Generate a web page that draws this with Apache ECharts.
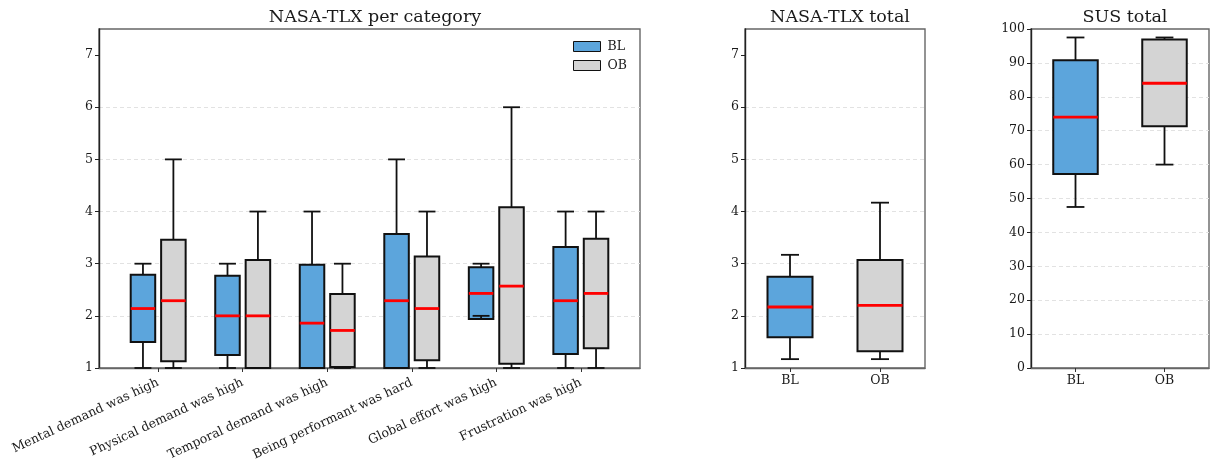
<!DOCTYPE html>
<html>
<head>
<meta charset="utf-8">
<script src="https://cdn.jsdelivr.net/npm/echarts@6/dist/echarts.min.js"></script>
<style>html,body{margin:0;padding:0;background:#fff;}#c{width:1210px;height:464px;}</style>
</head>
<body>
<div id="c"></div>
<script>
// ---- data (five-number summaries: [whisker low, Q1, median, Q3, whisker high]) ----
const categories = ['Mental demand was high', 'Physical demand was high', 'Temporal demand was high',
  'Being performant was hard', 'Global effort was high', 'Frustration was high'];
const groups = ['BL', 'OB'];
const tlxBL = [
  [1, 1.50, 2.14, 2.79, 3],
  [1, 1.25, 2.00, 2.77, 3],
  [1, 1.00, 1.86, 2.98, 4],
  [1, 1.00, 2.29, 3.57, 5],
  [2, 1.94, 2.43, 2.93, 3],
  [1, 1.27, 2.29, 3.32, 4]
];
const tlxOB = [
  [1, 1.13, 2.29, 3.46, 5],
  [1, 1.00, 2.00, 3.07, 4],
  [1, 1.02, 1.72, 2.42, 3],
  [1, 1.15, 2.14, 3.14, 4],
  [1, 1.08, 2.57, 4.08, 6],
  [1, 1.38, 2.43, 3.48, 4]
];
const tlxTotalBL = [1.17, 1.59, 2.17, 2.75, 3.17];
const tlxTotalOB = [1.17, 1.32, 2.20, 3.07, 4.17];
const susBL = [47.5, 57.2, 74.0, 90.8, 97.5];
const susOB = [60.0, 71.3, 84.0, 96.9, 97.5];
const tlxTicks = [1, 2, 3, 4, 5, 6, 7];

// ---- styles ----
const FONT = 'DejaVu Serif';
const TXT = '#1a1a1a';
const colors = { BL: '#5ca5dc', OB: '#d4d4d4' };

function boxRender(widthUnits) {
  return function (params, api) {
    const x = api.value(0);
    const lo = api.coord([x, api.value(1)]);
    const q1 = api.coord([x, api.value(2)]);
    const md = api.coord([x, api.value(3)]);
    const q3 = api.coord([x, api.value(4)]);
    const hi = api.coord([x, api.value(5)]);
    const unit = api.size([1, 0])[0];
    const hw = unit * widthUnits / 2;
    const cw = unit * 0.1;
    const cx = lo[0];
    const fill = api.visual('color');
    const blk = { stroke: '#111', lineWidth: 1.8 };
    return {
      type: 'group', children: [
        { type: 'rect', shape: { x: cx - hw, y: q3[1], width: 2 * hw, height: q1[1] - q3[1] },
          style: { fill: fill, stroke: '#111', lineWidth: 2 } },
        { type: 'line', shape: { x1: cx, y1: q3[1], x2: cx, y2: hi[1] }, style: blk },
        { type: 'line', shape: { x1: cx, y1: q1[1], x2: cx, y2: lo[1] }, style: blk },
        { type: 'line', shape: { x1: cx - cw, y1: hi[1], x2: cx + cw, y2: hi[1] }, style: blk },
        { type: 'line', shape: { x1: cx - cw, y1: lo[1], x2: cx + cw, y2: lo[1] }, style: blk },
        { type: 'line', shape: { x1: cx - hw, y1: md[1], x2: cx + hw, y2: md[1] },
          style: { stroke: '#ff0000', lineWidth: 2.8 } }
      ]
    };
  };
}

function yAxis(idx, min, max, interval, custom) {
  const o = {
    type: 'value', gridIndex: idx, min: min, max: max, interval: interval,
    axisLine: { show: true, onZero: false, lineStyle: { color: '#222', width: 1.4 } },
    axisTick: { show: true, length: 4, lineStyle: { color: '#222' } },
    axisLabel: { fontFamily: FONT, fontSize: 12.5, color: TXT, margin: 6 },
    splitLine: { show: true, showMinLine: false, showMaxLine: false,
      lineStyle: { color: '#e2e2e2', type: [4, 3], width: 1 } }
  };
  if (custom) {
    o.axisTick.customValues = custom;
    o.axisLabel.customValues = custom;
  }
  return o;
}

function catAxis(idx) {
  return {
    type: 'category', gridIndex: idx, data: groups, boundaryGap: true,
    axisLine: { show: true, onZero: false, lineStyle: { color: '#666', width: 1.4 } },
    axisTick: { show: true, alignWithLabel: true, length: 4, lineStyle: { color: '#333' } },
    axisLabel: { fontFamily: FONT, fontSize: 12.5, color: TXT, margin: 6 },
    splitLine: { show: false }
  };
}

const OFF = 0.18, BW = 0.29;
const series = [];
groups.forEach(function (g, gi) {
  const src = gi === 0 ? tlxBL : tlxOB;
  const sign = gi === 0 ? -1 : 1;
  series.push({
    type: 'custom', name: g, xAxisIndex: 0, yAxisIndex: 0,
    itemStyle: { color: colors[g], borderColor: '#111', borderWidth: 1 },
    renderItem: boxRender(BW),
    encode: { x: 0, y: [1, 2, 3, 4, 5] },
    data: src.map(function (v, i) { return [i + sign * OFF].concat(v); })
  });
});
[[tlxTotalBL, tlxTotalOB, 1], [susBL, susOB, 2]].forEach(function (p) {
  groups.forEach(function (g, gi) {
    series.push({
      type: 'custom', name: g, xAxisIndex: p[2], yAxisIndex: p[2],
      itemStyle: { color: colors[g], borderColor: '#111', borderWidth: 1 },
      renderItem: boxRender(0.5),
      encode: { x: 0, y: [1, 2, 3, 4, 5] },
      data: [[gi].concat(p[gi])]
    });
  });
});

const titleStyle = { fontFamily: FONT, fontSize: 17.5, fontWeight: 'normal', color: TXT };
const option = {
  animation: false,
  backgroundColor: '#fff',
  title: [
    { text: 'NASA-TLX per category', left: 370, top: 3, textAlign: 'center', textStyle: titleStyle },
    { text: 'NASA-TLX total', left: 835, top: 3, textAlign: 'center', textStyle: titleStyle },
    { text: 'SUS total', left: 1120, top: 3, textAlign: 'center', textStyle: titleStyle }
  ],
  legend: {
    data: groups, orient: 'vertical', left: 573, top: 40, itemGap: 6, padding: 0,
    icon: 'rect', itemWidth: 27, itemHeight: 10,
    textStyle: { fontFamily: FONT, fontSize: 12.5, color: TXT, padding: [0, 0, 0, 2] },
    itemStyle: { borderColor: '#111', borderWidth: 1 },
    selectedMode: false
  },
  grid: [
    { left: 99, top: 29, width: 541, height: 339, show: true, borderColor: '#666', borderWidth: 1.4 },
    { left: 745, top: 29, width: 180, height: 339, show: true, borderColor: '#666', borderWidth: 1.4 },
    { left: 1031, top: 29, width: 178, height: 339, show: true, borderColor: '#666', borderWidth: 1.4 }
  ],
  xAxis: [
    {
      type: 'value', gridIndex: 0, min: -0.7, max: 5.7,
      axisLine: { show: true, onZero: false, lineStyle: { color: '#666', width: 1.4 } },
      axisTick: { show: true, length: 4, lineStyle: { color: '#333' }, customValues: [0, 1, 2, 3, 4, 5] },
      axisLabel: {
        customValues: [0, 1, 2, 3, 4, 5], rotate: 25, fontFamily: FONT, fontSize: 12.5, color: TXT, margin: 14,
        formatter: function (v) { return categories[Math.round(v)]; }
      },
      splitLine: { show: false }
    },
    catAxis(1),
    catAxis(2)
  ],
  yAxis: [
    yAxis(0, 1, 7.5, 1, tlxTicks),
    yAxis(1, 1, 7.5, 1, tlxTicks),
    yAxis(2, 0, 100, 10, null)
  ],
  series: series
};
const chart = echarts.init(document.getElementById('c'), null, { renderer: 'canvas' });
chart.setOption(option);
</script>
</body>
</html>
